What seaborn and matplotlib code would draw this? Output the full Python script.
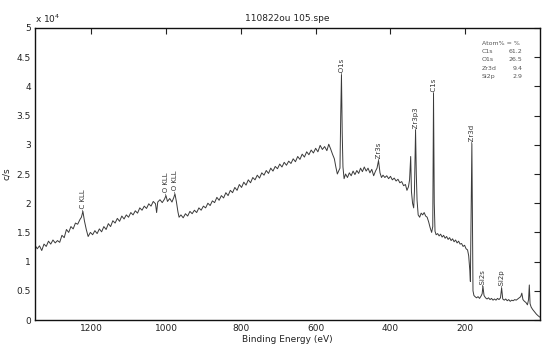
import matplotlib
matplotlib.use("Agg")
import matplotlib.pyplot as plt
import seaborn as sns
import numpy as np
import pandas as pd

# ---- data (binding energy in eV, intensity in units of 1e4 c/s) ----
energy_ev = [
    1350, 1344, 1338, 1332, 1326, 1320, 1314, 1308, 1302, 1296, 1290, 1284, 1278, 1272, 1266,
    1260, 1254, 1248, 1242, 1236, 1230, 1226, 1222, 1218, 1213, 1208,
    1202, 1196, 1190, 1184, 1178, 1172, 1166, 1160, 1154, 1148, 1142, 1136, 1130, 1124, 1118,
    1112, 1106, 1100, 1094, 1088, 1082, 1076, 1070, 1064, 1058, 1052, 1046, 1040, 1034, 1028,
    1025, 1022, 1016, 1010, 1004, 1000, 996, 990, 984, 979, 976, 972, 968, 965,
    960, 954, 948, 942, 936, 930, 924, 918, 912, 906, 900, 894, 888, 882, 876, 870, 864, 858,
    852, 846, 840, 834, 828, 822, 816, 810, 804, 798, 792, 786, 780, 774, 768, 762, 756, 750,
    744, 738, 732, 726, 720, 714, 708, 702, 696, 690, 684, 678, 672, 666, 660, 654, 648, 642,
    636, 630, 624, 618, 612, 606, 600, 594, 588, 582, 576, 570, 565, 560, 555, 550, 546, 542,
    538, 535, 533, 531, 529, 527, 524, 520, 515, 510, 505, 500, 495, 490, 485, 480, 475, 470,
    465, 460, 455, 450, 445, 440, 436, 432, 428, 424, 420, 415, 410, 405, 400, 395, 390, 385,
    380, 375, 370, 365, 360, 356, 352, 349, 346, 344, 341, 338, 336, 334, 333, 331, 329, 326,
    322, 318, 314, 310, 306, 302, 298, 294, 290, 287, 285, 283, 281, 278, 274, 270, 266, 262,
    258, 254, 250, 246, 242, 238, 234, 230, 226, 222, 218, 214, 210, 206, 202, 198, 194, 191,
    188, 186.5, 182.5, 179.5, 177, 174, 170, 166, 162, 158, 155, 153, 150, 146,
    142, 138, 134, 130, 126, 122, 118, 114, 110, 106, 103, 100, 96, 92, 88, 84, 80, 76, 72,
    68, 64, 60, 56, 52, 49, 46, 42, 38, 34, 31, 29, 27, 24, 20, 15, 10, 5, 1,
]
counts_1e4 = [
    1.28, 1.22, 1.27, 1.19, 1.30, 1.26, 1.35, 1.30, 1.37, 1.32, 1.36, 1.33, 1.45, 1.41, 1.55,
    1.50, 1.60, 1.56, 1.66, 1.64, 1.72, 1.76, 1.86, 1.70, 1.55, 1.43,
    1.50, 1.46, 1.53, 1.48, 1.56, 1.51, 1.60, 1.55, 1.65, 1.60, 1.70, 1.66, 1.74, 1.69, 1.78,
    1.73, 1.80, 1.76, 1.84, 1.80, 1.87, 1.83, 1.92, 1.88, 1.95, 1.91, 1.99, 1.95, 2.03, 1.99,
    1.84, 2.02, 2.06, 2.01, 2.07, 2.13, 2.03, 2.08, 2.02, 2.10, 2.16, 2.02, 1.85, 1.76,
    1.80, 1.75, 1.82, 1.78, 1.86, 1.82, 1.88, 1.84, 1.92, 1.88, 1.95, 1.92, 2.00, 1.96, 2.04, 2.01, 2.10, 2.05,
    2.13, 2.09, 2.18, 2.13, 2.22, 2.18, 2.27, 2.22, 2.32, 2.27, 2.36, 2.31, 2.40, 2.35, 2.44, 2.40, 2.48, 2.43,
    2.52, 2.48, 2.56, 2.51, 2.60, 2.55, 2.63, 2.59, 2.67, 2.62, 2.70, 2.65, 2.72, 2.68, 2.76, 2.71, 2.80, 2.75,
    2.84, 2.79, 2.88, 2.83, 2.91, 2.86, 2.94, 2.88, 2.99, 2.92, 2.97, 2.90, 3.01, 2.93, 2.84, 2.76, 2.62, 2.50,
    2.56, 2.60, 3.50, 4.20, 3.20, 2.62, 2.42, 2.50, 2.44, 2.52, 2.47, 2.55, 2.49, 2.56, 2.51, 2.60, 2.54, 2.62,
    2.55, 2.60, 2.52, 2.58, 2.47, 2.55, 2.60, 2.73, 2.52, 2.44, 2.48, 2.44, 2.47, 2.42, 2.46, 2.40, 2.43, 2.38,
    2.41, 2.35, 2.37, 2.30, 2.32, 2.22, 2.28, 2.40, 2.80, 2.20, 2.00, 1.92, 2.20, 2.90, 3.25, 2.50, 2.05, 1.80,
    1.76, 1.83, 1.80, 1.84, 1.78, 1.76, 1.68, 1.58, 1.50, 1.60, 3.88, 2.00, 1.52, 1.46, 1.48, 1.44, 1.47, 1.42,
    1.45, 1.40, 1.43, 1.38, 1.41, 1.36, 1.39, 1.34, 1.37, 1.32, 1.35, 1.30, 1.31, 1.26, 1.28, 1.22, 1.20, 1.10,
    0.85, 0.66, 3.02, 0.50, 0.42, 0.40, 0.38, 0.40, 0.37, 0.41, 0.45, 0.58, 0.42, 0.38,
    0.36, 0.38, 0.35, 0.37, 0.34, 0.36, 0.34, 0.37, 0.35, 0.38, 0.55, 0.36, 0.34, 0.36, 0.33, 0.35, 0.32, 0.34, 0.33,
    0.35, 0.34, 0.36, 0.38, 0.40, 0.46, 0.35, 0.32, 0.30, 0.26, 0.35, 0.60, 0.28, 0.22, 0.18, 0.14, 0.10, 0.07, 0.05,
]

peak_ev = [1222, 1000, 976, 531, 432, 333, 285, 182.5, 153, 103]
peak_labels = ["C KLL", "O KLL", "O KLL", "O1s", "Zr3s", "Zr3p3", "C1s", "Zr3d", "Si2s", "Si2p"]

quant_names = ["C1s", "O1s", "Zr3d", "Si2p"]
quant_values = ["61.2", "26.5", "9.4", "2.9"]

x_ticks = [1200, 1000, 800, 600, 400, 200]
y_ticks = [0, 0.5, 1, 1.5, 2, 2.5, 3, 3.5, 4, 4.5, 5]
y_tick_labels = ["0", "0.5", "1", "1.5", "2", "2.5", "3", "3.5", "4", "4.5", "5"]

df = pd.DataFrame({"energy": energy_ev, "counts": counts_1e4})

sns.set_theme(style="white")
plt.rcParams["font.family"] = ["DejaVu Sans"]

fig = plt.figure(figsize=(5.42, 3.46), dpi=100)
ax = fig.add_axes([0.0646, 0.0751, 0.932, 0.844])

sns.lineplot(data=df, x="energy", y="counts", estimator=None, sort=False,
             color="#3a3a3a", linewidth=0.7, ax=ax)

ax.set_xlim(1350, 0)
ax.set_ylim(0, 5)
ax.set_xticks(x_ticks)
ax.set_xticklabels([str(t) for t in x_ticks])
ax.set_yticks(y_ticks)
ax.set_yticklabels(y_tick_labels)
ax.tick_params(direction="in", top=True, right=True, length=4, width=0.8,
               labelsize=6.5, colors="#222222", pad=3)
for s in ax.spines.values():
    s.set_color("#111111")
    s.set_linewidth(1.0)

ax.set_xlabel("Binding Energy (eV)", fontsize=6.5, labelpad=1, color="#222222")
ax.set_ylabel("c/s", fontsize=6.5, labelpad=4, color="#222222")
ax.set_title("110822ou 105.spe", fontsize=6.5, pad=5, color="#222222")
ax.text(0.0, 1.01, r"x 10$^4$", transform=ax.transAxes, fontsize=6.5,
        ha="left", va="bottom", color="#222222")

# peak labels
e_arr = np.array(energy_ev)
c_arr = np.array(counts_1e4)
for pe, lab in zip(peak_ev, peak_labels):
    idx = int(np.argmin(np.abs(e_arr - pe)))
    ax.text(e_arr[idx], c_arr[idx] + 0.01, "-" + lab, rotation=90, ha="center",
            va="bottom", fontsize=5, color="#333333")

# quantification box
ax.text(0.885, 0.955, "Atom% = %", transform=ax.transAxes, fontsize=4.5,
        ha="left", va="top", color="#555555")
for i, (n, v) in enumerate(zip(quant_names, quant_values)):
    yy = 0.955 - 0.028 * (i + 1)
    ax.text(0.885, yy, n, transform=ax.transAxes, fontsize=4.5, ha="left",
            va="top", color="#555555")
    ax.text(0.965, yy, v, transform=ax.transAxes, fontsize=4.5, ha="right",
            va="top", color="#555555")

fig.savefig("out.png", dpi=100)
